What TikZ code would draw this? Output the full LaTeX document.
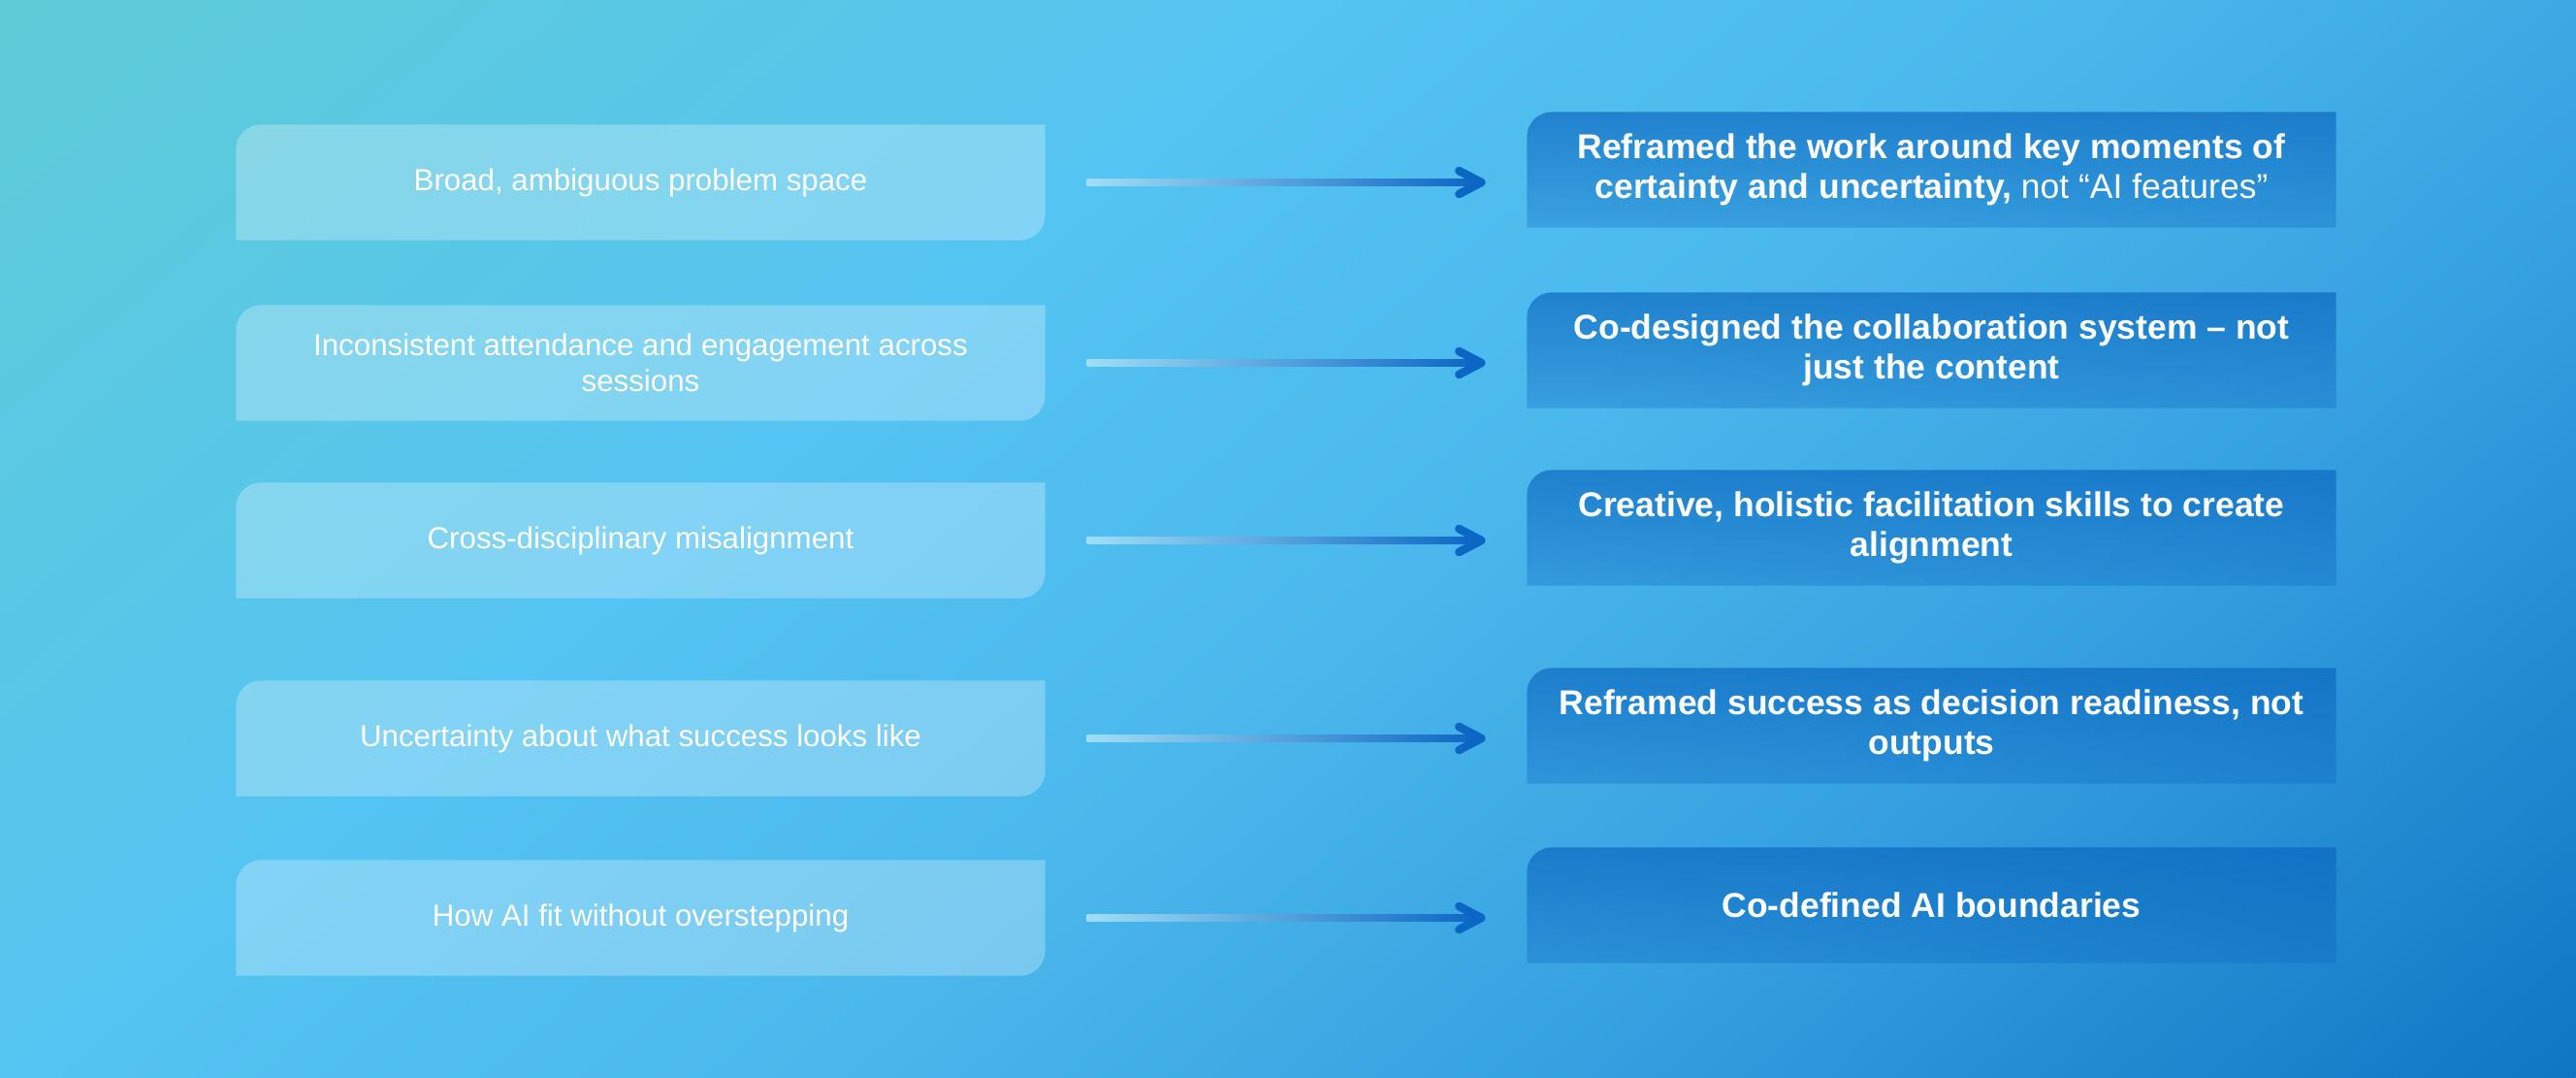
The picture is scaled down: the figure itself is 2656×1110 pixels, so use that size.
\documentclass[tikz,border=0pt]{standalone}
\usepackage{fontspec}
\setmainfont{Liberation Sans}
\usetikzlibrary{calc,backgrounds,fadings}
\definecolor{bgA}{RGB}{94,204,214}
\definecolor{bgB}{RGB}{84,196,242}
\definecolor{bgB2}{RGB}{74,184,236}
\definecolor{bgC}{RGB}{52,160,224}
\definecolor{bgD}{RGB}{14,118,195}
\definecolor{rboxC}{RGB}{10,100,190}
\definecolor{arrA}{RGB}{160,222,246}
\definecolor{arrB}{RGB}{12,102,196}
\pgfdeclarehorizontalshading{bgwash}{100bp}{color(0bp)=(bgA); color(25bp)=(bgA);
  color(42bp)=(bgB); color(52bp)=(bgB2); color(62bp)=(bgC); color(75bp)=(bgD); color(100bp)=(bgD)}
\tikzfading[name=rfade, top color=transparent!0, bottom color=transparent!55]
\tikzset{
  lbox/.style={minimum width=83.3mm, minimum height=11.8mm, inner sep=0pt, text=white, align=center,
    font=\fontsize{8.9pt}{10.6pt}\selectfont},
  rbox/.style={minimum width=83.3mm, minimum height=11.8mm, inner sep=0pt, text=white, align=center,
    font=\bfseries\fontsize{10.1pt}{11.8pt}\selectfont},
  lfill/.style={fill=white, fill opacity=0.27},
  rfill/.style={fill=rboxC, fill opacity=0.66, path fading=rfade},
  shaft/.style={left color=arrA, right color=arrB},
  chevron/.style={draw=arrB, line width=0.85mm, line cap=round, line join=round}
}
% box with round top-left and bottom-right corners
\newcommand\leafbox[2]{\path[#2] (#1.south west) -- ($(#1.north west)+(0,26)$)
  arc[start angle=180,end angle=270,radius=26] -- (#1.north east) -- ($(#1.south east)+(0,-26)$)
  arc[start angle=0,end angle=90,radius=26] -- cycle;}
% box with round top-left corner only
\newcommand\tabbox[2]{\path[#2] (#1.south west) -- ($(#1.north west)+(0,26)$)
  arc[start angle=180,end angle=270,radius=26] -- (#1.north east) -- (#1.south east) -- cycle;}

\begin{document}
\begin{tikzpicture}[x=0.1mm,y=-0.1mm]
 \useasboundingbox (0,0) rectangle (2656,1110);
 % backdrop
 \begin{scope}[on background layer]
  \clip (0,0) rectangle (2656,1110);
  \shade[shading=bgwash, transform canvas={rotate around={-50:(1328,555)}}] (49,-820) rectangle (2607,1930);
 \end{scope}
 \foreach \i/\y/\ltxt/\rtxt in {
   1/188/{Broad, ambiguous problem space}/{Reframed the work around key moments of\\certainty and uncertainty, \textmd{not “AI features”}},
   2/374/{Inconsistent attendance and engagement across\\sessions}/{Co-designed the collaboration system – not\\just the content},
   3/557/{Cross-disciplinary misalignment}/{Creative, holistic facilitation skills to create\\alignment},
   4/761/{Uncertainty about what success looks like}/{Reframed success as decision readiness, not\\outputs},
   5/946/{How AI fit without overstepping}/{Co-defined AI boundaries}}{
  \node[lbox] (l\i) at (660.5,\y) {\ltxt};
  \node[rbox] (r\i) at (1991.5,{\y-13}) {\rtxt};
  \coordinate (a\i) at ($(l\i.east)+(43,0)$);
  \coordinate (b\i) at ($(l\i.east -| r\i.west)+(-47,0)$);
  \shade[shaft] ($(a\i)+(0,-3.5)$) rectangle ($(b\i)+(-6,3.5)$);
  \draw[chevron] ($(b\i)+(-23,-12)$) -- (b\i) -- ($(b\i)+(-23,12)$);
 }
 % box fills behind the text
 \begin{scope}[on background layer]
  \foreach \i in {1,...,5}{\leafbox{l\i}{lfill} \tabbox{r\i}{rfill}}
 \end{scope}
\end{tikzpicture}
\end{document}
